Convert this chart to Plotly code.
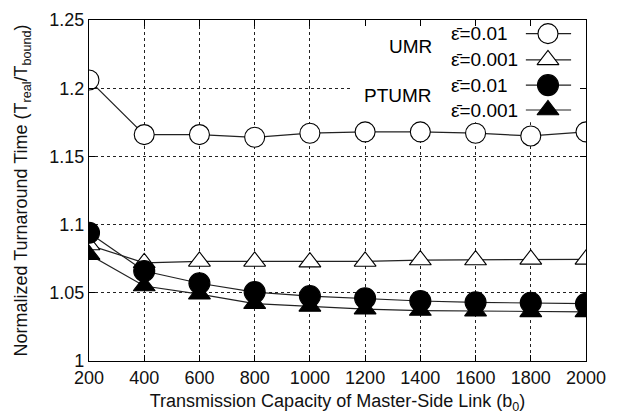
import plotly.graph_objects as go

# Transmission capacity of the master-side link (b0)
capacity = [200, 400, 600, 800, 1000, 1200, 1400, 1600, 1800, 2000]

# Normalized turnaround time T_real / T_bound
umr_e01 = [1.206, 1.166, 1.166, 1.164, 1.167, 1.168, 1.168, 1.167, 1.165, 1.168]
umr_e001 = [1.085, 1.072, 1.073, 1.073, 1.0725, 1.073, 1.074, 1.074, 1.0745, 1.0745]
ptumr_e01 = [1.094, 1.066, 1.057, 1.0505, 1.0476, 1.046, 1.044, 1.043, 1.0427, 1.042]
ptumr_e001 = [1.078, 1.055, 1.049, 1.042, 1.040, 1.038, 1.037, 1.0365, 1.036, 1.036]

y_ticks = [1.0, 1.05, 1.1, 1.15, 1.2, 1.25]
y_tick_text = ["1", "1.05", "1.1", "1.15", "1.2", "1.25"]

series = [
    ("UMR", "\u03b5\u0304=0.01", umr_e01, "circle", "white", 20),
    ("UMR", "\u03b5\u0304=0.001", umr_e001, "triangle-up", "white", 19),
    ("PTUMR", "\u03b5\u0304=0.01", ptumr_e01, "circle", "black", 21),
    ("PTUMR", "\u03b5\u0304=0.001", ptumr_e001, "triangle-up", "black", 19),
]

FONT = "Liberation Sans, Arial, sans-serif"
fig = go.Figure()

for group, label, vals, sym, fill, size in series:
    fig.add_trace(go.Scatter(
        x=capacity, y=vals, mode="lines+markers",
        name=f"{group} {label}", showlegend=False,
        line=dict(color="#222", width=1.2),
        marker=dict(symbol=sym, size=size, color=fill,
                    line=dict(color="black", width=1.1)),
    ))

# Key: sample line + marker on an overlay axis spanning the plot area
key_rows = [0.960, 0.883, 0.809, 0.736]
for (group, label, vals, sym, fill, size), ky in zip(series, key_rows):
    fig.add_trace(go.Scatter(
        x=[0.879, 0.970], y=[ky, ky], mode="lines", xaxis="x2", yaxis="y2",
        showlegend=False, hoverinfo="skip",
        line=dict(color="#222", width=1.2),
    ))
    fig.add_trace(go.Scatter(
        x=[0.9235], y=[ky], mode="markers", xaxis="x2", yaxis="y2",
        showlegend=False, hoverinfo="skip",
        marker=dict(symbol=sym, size=size, color=fill,
                    line=dict(color="black", width=1.1)),
    ))
    fig.add_annotation(x=0.724, y=ky, xref="paper", yref="paper",
                       text=label, showarrow=False, xanchor="left",
                       yanchor="middle", font=dict(size=19, color="black"))

fig.add_annotation(x=0.694, y=0.921, xref="paper", yref="paper", text="UMR",
                   showarrow=False, xanchor="right", yanchor="middle",
                   font=dict(size=19, color="black"))
fig.add_annotation(x=0.694, y=0.780, xref="paper", yref="paper", text="PTUMR",
                   showarrow=False, xanchor="right", yanchor="middle",
                   font=dict(size=19, color="black"))

# White key background hides the grid behind it
fig.add_shape(type="rect", xref="x", yref="y", x0=1156, x1=2000,
              y0=1.175, y1=1.25, fillcolor="white", line=dict(width=0),
              layer="between")

axis_common = dict(
    showline=True, linecolor="black", linewidth=1.3, mirror="ticks",
    ticks="inside", ticklen=6, tickcolor="black", tickwidth=1,
    showgrid=True, gridcolor="#222", gridwidth=1, griddash="3px,3px",
    zeroline=False, automargin=False, tickfont=dict(size=18, color="#111"),
)

fig.update_layout(
    width=634, height=414,
    margin=dict(l=89, r=48, t=20, b=53),
    paper_bgcolor="white", plot_bgcolor="white",
    font=dict(family=FONT, color="#111"),
    xaxis=dict(range=[200, 2000], tickvals=capacity, **axis_common,
               title=dict(text="Transmission Capacity of Master-Side Link (b<sub>0</sub>)",
                          font=dict(size=18), standoff=11)),
    yaxis=dict(range=[1.0, 1.25], tickvals=y_ticks, ticktext=y_tick_text,
               **axis_common,
               title=dict(text="Normalized Turnaround Time (T<sub>real</sub>/T<sub>bound</sub>)",
                          font=dict(size=18), standoff=16)),
    xaxis2=dict(range=[0, 1], overlaying="x", visible=False, fixedrange=True),
    yaxis2=dict(range=[0, 1], overlaying="y", visible=False, fixedrange=True),
)

fig.write_html("out.html")
